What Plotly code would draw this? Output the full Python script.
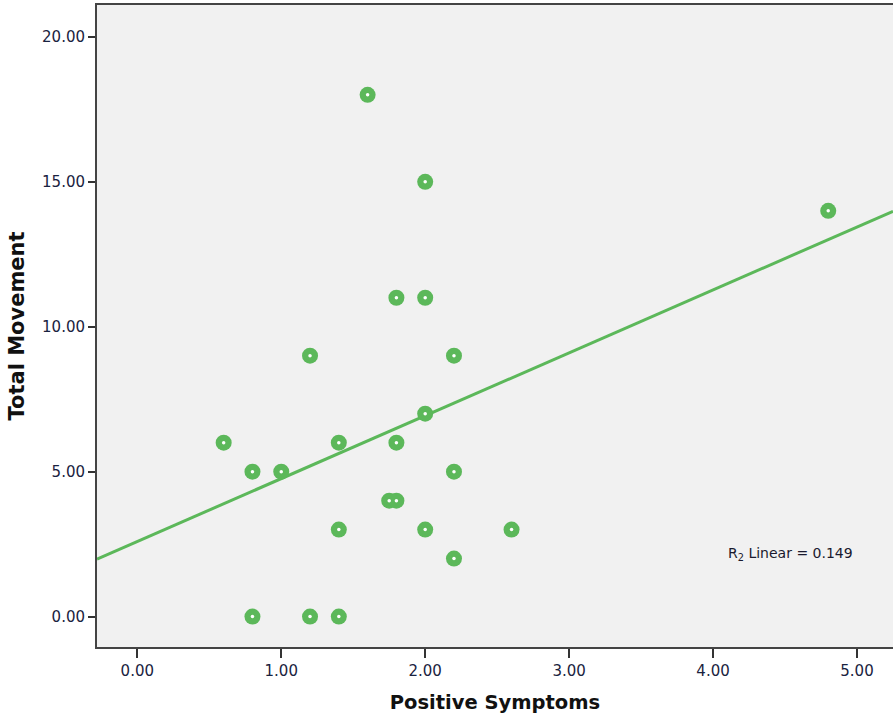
import plotly.graph_objects as go

# Data
positive_symptoms = [0.6, 0.8, 1.0, 0.8, 1.2, 1.4, 1.2, 1.4, 1.4, 1.6, 1.75, 1.8,
                     1.8, 1.8, 2.0, 2.0, 2.0, 2.0, 2.2, 2.2, 2.2, 2.6, 4.8]
total_movement = [6, 5, 5, 0, 0, 0, 9, 6, 3, 18, 4, 4,
                  11, 6, 15, 11, 7, 3, 9, 5, 2, 3, 14]
fit_intercept = 2.59
fit_slope = 2.17
r2_text = "R<sub>2</sub> Linear = 0.149"
x_ticks = [0, 1, 2, 3, 4, 5]
y_ticks = [0, 5, 10, 15, 20]

GREEN = "#5cb85a"
x_range = [-0.28, 5.25]
y_range = [-1.05, 21.1]

fig = go.Figure()
fig.add_trace(go.Scatter(
    x=x_range, y=[fit_intercept + fit_slope * v for v in x_range],
    mode="lines", line=dict(color=GREEN, width=3), hoverinfo="skip", showlegend=False))
fig.add_trace(go.Scatter(
    x=positive_symptoms, y=total_movement, mode="markers",
    marker=dict(symbol="circle", size=16, color=GREEN, line=dict(width=0)),
    showlegend=False))
fig.add_trace(go.Scatter(
    x=positive_symptoms, y=total_movement, mode="markers",
    marker=dict(symbol="circle", size=3.5, color="white", line=dict(width=0)),
    hoverinfo="skip", showlegend=False))

fig.add_annotation(x=4.09, y=2.15, xref="x", yref="y", text=r2_text,
                   showarrow=False, xanchor="left", yanchor="middle",
                   font=dict(family="DejaVu Sans", size=14, color="#1a1a2e"))

axis_common = dict(showgrid=False, zeroline=False, showline=True, linecolor="#444",
                   linewidth=2, mirror=True, ticks="outside", tickcolor="#333",
                   tickwidth=2, automargin=False,
                   tickfont=dict(family="DejaVu Sans", size=15, color="#1a2340"))

fig.update_xaxes(range=x_range, tickvals=x_ticks, tickformat=".2f", ticklen=9,
                 title=dict(text="<b>Positive Symptoms</b>", standoff=16,
                            font=dict(family="DejaVu Sans", size=19.5, color="#111")),
                 **axis_common)
fig.update_yaxes(range=y_range, tickvals=y_ticks, tickformat=".2f", ticklen=7,
                 title=dict(text="<b>Total Movement</b>", standoff=12,
                            font=dict(family="DejaVu Sans", size=21, color="#111")),
                 **axis_common)

fig.update_layout(width=893, height=718, margin=dict(l=97, r=0, t=5, b=71),
                  plot_bgcolor="#f1f1f1", paper_bgcolor="white")
fig.write_html("out.html", config={"displayModeBar": False},
               post_script="document.body.style.margin='0px';")
